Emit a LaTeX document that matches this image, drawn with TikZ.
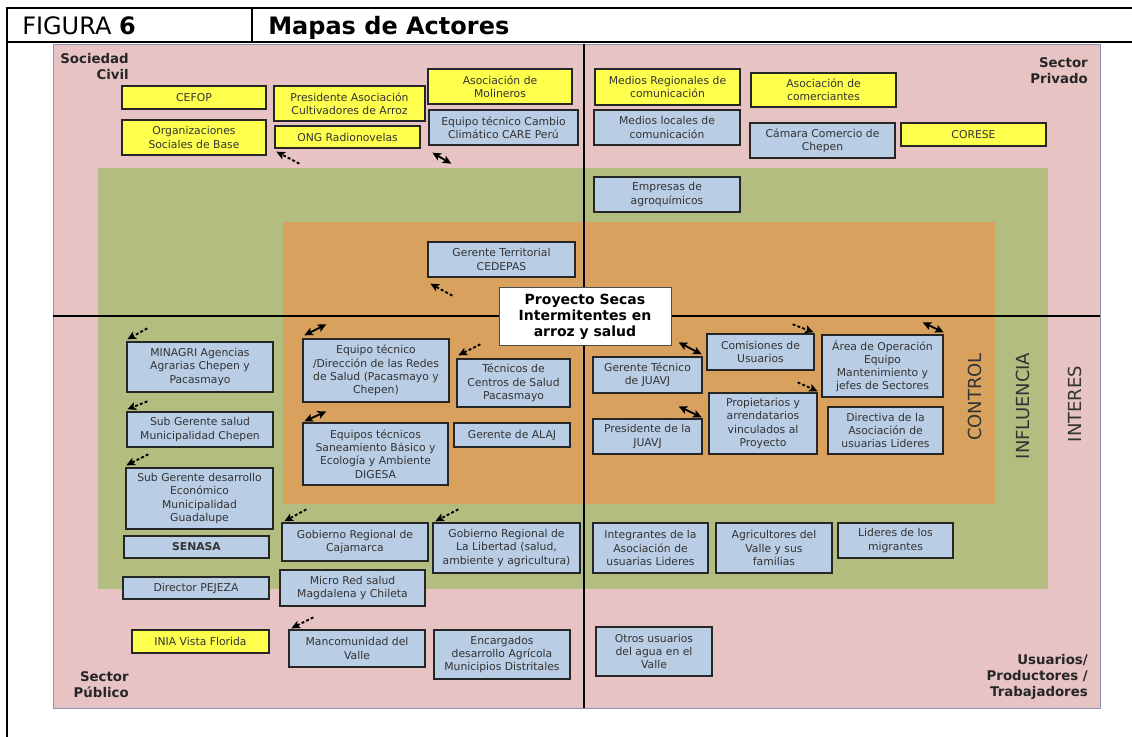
\documentclass[tikz,border=0pt]{standalone}
\usepackage{fontspec}
\setmainfont{DejaVu Sans}
\usepackage{tikz}
\usetikzlibrary{arrows.meta,calc}
\definecolor{mpink}{HTML}{E7C3C3}
\definecolor{mgreen}{HTML}{B4BD80}
\definecolor{morange}{HTML}{D8A25E}
\definecolor{mblue}{HTML}{B9CDE5}
\definecolor{myellow}{HTML}{FFFF4D}
\definecolor{mrim}{HTML}{8D93AE}
\tikzset{
  frame/.style={line width=1.5pt,draw=black},
  axisl/.style={line width=2pt,draw=black},
  actor/.style={draw=black!85,line width=1pt,align=center,text=black!80,font=\fontsize{8.1}{9.9}\selectfont,inner sep=1pt},
  yelbox/.style={actor,fill=myellow},
  bluebox/.style={actor,fill=mblue},
  proj/.style={draw=black!70,fill=white,line width=0.6pt,align=center,font=\fontsize{10.5}{12}\selectfont\bfseries,inner sep=1pt},
  darr/.style={{Stealth[length=6.5pt,width=6pt,inset=1.5pt]}-{Stealth[length=6.5pt,width=6pt,inset=1.5pt]},line width=1.4pt},
  parr/.style={-{Stealth[length=6.5pt,width=6pt,inset=1.5pt]},line width=1.4pt,dash pattern=on 2.2pt off 1.6pt},
  corner/.style={font=\fontsize{10}{12}\selectfont\bfseries,inner sep=0pt,text=black!85},
  vlab/.style={rotate=90,font=\fontsize{13.5}{16}\selectfont,text=black!80,inner sep=0pt},
  head/.style={font=\fontsize{18}{21}\selectfont,inner sep=0pt,anchor=base west},
}
\begin{document}
\begin{tikzpicture}[x=0.75pt,y=-0.75pt]
  \useasboundingbox (0,0) rectangle (1132,737);
  % table frame
  \draw[frame] (7,737) -- (7,8) -- (1132,8);
  \draw[frame] (7,42) -- (1132,42);
  \draw[frame] (252,8) -- (252,42);
  \node[head] (fig) at (22,35) {FIGURA \textbf{6}};
  \node[head,font=\fontsize{18}{21}\selectfont\bfseries] (titulo) at (268,35) {Mapas de Actores};
  % zones
  \filldraw[fill=mpink,draw=mrim,line width=0.6pt] (53,44) rectangle (1100,708);
  \fill[mgreen] (98,168) rectangle (1048,589);
  \fill[morange] (283,222) rectangle (995,504);
  \draw[axisl] (53,316) -- (1100,316);
  \draw[axisl] (584,44) -- (584,708);
  \node[proj,minimum width=129pt,minimum height=44pt] (proy) at (585,316.5) {Proyecto Secas\\Intermitentes en\\arroz y salud};

  \node[corner,anchor=north east,align=right] (civil) at (129,53) {Sociedad\\Civil};
  \node[corner,anchor=north east,align=right] (privado) at (1088,57) {Sector\\Privado};
  \node[corner,anchor=south east,align=right] (publico) at (129,698) {Sector\\Público};
  \node[corner,anchor=south east,align=right] (usuarios) at (1088,700) {Usuarios/\\Productores /\\Trabajadores};
  \node[vlab] (control) at (975,397) {CONTROL};
  \node[vlab] (influencia) at (1023,406) {INFLUENCIA};
  \node[vlab] (interes) at (1075,404) {INTERES};

  \foreach \nm/\xa/\ya/\xb/\yb/\txt in {
    cefop/122/86/266/109/{CEFOP},
    osb/122/120/266/155/{Organizaciones\\Sociales de Base},
    pres/274/86/425/121/{Presidente Asociación\\Cultivadores de Arroz},
    ong/275/126/420/148/{ONG Radionovelas},
    moli/428/69/572/104/{Asociación de\\Molineros},
    medreg/595/69/740/105/{Medios Regionales de\\comunicación},
    comer/751/73/896/107/{Asociación de\\comerciantes},
    corese/901/123/1046/146/{CORESE},
    inia/132/630/269/653/{INIA Vista Florida}}
    \node[yelbox,minimum width={(\xb-\xa)*0.75pt},minimum height={(\yb-\ya)*0.75pt}] (\nm) at ({(\xa+\xb)/2},{(\ya+\yb)/2}) {\txt};

  \foreach \nm/\xa/\ya/\xb/\yb/\txt in {
    care/429/110/578/145/{Equipo técnico Cambio\\Climático CARE Perú},
    medloc/594/110/740/145/{Medios locales de\\comunicación},
    camara/750/123/895/158/{Cámara Comercio de\\Chepen},
    empresas/594/177/740/212/{Empresas de\\agroquímicos},
    cedepas/428/242/575/277/{Gerente Territorial\\CEDEPAS},
    minagri/127/342/273/392/{MINAGRI Agencias\\Agrarias Chepen y\\Pacasmayo},
    redes/303/339/449/402/{Equipo técnico\\/Dirección de las Redes\\de Salud (Pacasmayo y\\Chepen)},
    tecnicos/457/359/570/407/{Técnicos de\\Centros de Salud\\Pacasmayo},
    subsalud/127/412/273/447/{Sub Gerente salud\\Municipalidad Chepen},
    digesa/303/423/448/485/{Equipos técnicos\\Saneamiento Básico y\\Ecología y Ambiente\\DIGESA},
    ala/454/423/570/447/{Gerente de ALAJ},
    subdes/126/468/273/529/{Sub Gerente desarrollo\\Económico\\Municipalidad\\Guadalupe},
    senasa/124/536/269/558/{\textbf{SENASA}},
    cajamarca/282/523/428/561/{Gobierno Regional de\\Cajamarca},
    libertad/433/523/580/573/{Gobierno Regional de\\La Libertad (salud,\\ambiente y agricultura)},
    pejeza/123/577/269/599/{Director PEJEZA},
    microred/280/570/425/606/{Micro Red salud\\Magdalena y Chileta},
    mancom/289/630/425/667/{Mancomunidad del\\Valle},
    encarg/434/630/570/679/{Encargados\\desarrollo Agrícola\\Municipios Distritales},
    comis/707/334/814/370/{Comisiones de\\Usuarios},
    area/822/335/943/397/{Área de Operación\\Equipo\\Mantenimiento y\\jefes de Sectores},
    gertec/593/357/702/393/{Gerente Técnico\\de JUAVJ},
    propiet/709/393/817/454/{Propietarios y\\arrendatarios\\vinculados al\\Proyecto},
    directiva/828/407/943/454/{Directiva de la\\Asociación de\\usuarias Lideres},
    presjuavj/593/419/702/454/{Presidente de la\\JUAVJ},
    integr/593/523/708/573/{Integrantes de la\\Asociación de\\usuarias Lideres},
    agric/716/523/832/573/{Agricultores del\\Valle y sus\\familias},
    lideres/838/523/953/558/{Lideres de los\\migrantes},
    otros/596/627/712/676/{Otros usuarios\\del agua en el\\Valle}}
    \node[bluebox,minimum width={(\xb-\xa)*0.75pt},minimum height={(\yb-\ya)*0.75pt}] (\nm) at ({(\xa+\xb)/2},{(\ya+\yb)/2}) {\txt};

  \foreach \n/\a/\tx/\ty/\hx/\hy in {
    ong/south west/25/15/2/3, cedepas/south west/25/18/3/6,
    minagri/north west/21/-13/1/-2, subsalud/north west/21/-10/1/-2,
    subdes/north west/23/-13/1/-2, tecnicos/north west/24/-14/2/-3,
    cajamarca/north west/25/-13/3/-1, libertad/north west/26/-13/3/-1,
    mancom/north west/25/-12/3/-1, comis/north east/-22/-9/-1/-1,
    propiet/north east/-20/-10/0/-1}
    \draw[parr] ($(\n.\a)+(\tx,\ty)$) -- ($(\n.\a)+(\hx,\hy)$);

  \foreach \n/\a/\tx/\ty/\hx/\hy in {
    care/south west/4/7/23/18, redes/north west/2/-3/24/-14,
    digesa/north west/2/-1/24/-11, area/north east/-21/-12/0/-2,
    gertec/north east/-24/-14/-1/-2, presjuavj/north east/-24/-12/-1/-1}
    \draw[darr] ($(\n.\a)+(\tx,\ty)$) -- ($(\n.\a)+(\hx,\hy)$);
\end{tikzpicture}
\end{document}
